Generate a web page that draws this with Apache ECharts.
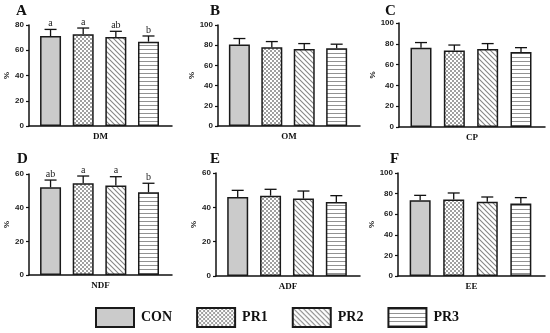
<!DOCTYPE html>
<html><head><meta charset="utf-8">
<script src="https://cdn.jsdelivr.net/npm/echarts@6/dist/echarts.min.js"></script>
<style>html,body{margin:0;padding:0;background:#fff}#c{width:550px;height:333px}</style>
</head><body><div id="c"></div>
<script>
// ---- data ----
const groups = ['CON', 'PR1', 'PR2', 'PR3'];
const panelLetters = ['A', 'B', 'C', 'D', 'E', 'F'];
const panelNames = ['DM', 'OM', 'CP', 'NDF', 'ADF', 'EE'];
const yMax = [80, 100, 100, 60, 60, 100];
const yInterval = 20;
const dmMean = [71.3, 72.6, 70.5, 66.8];
const dmSE = [5.2, 5.0, 4.5, 4.5];
const dmSig = ['a', 'a', 'ab', 'b'];
const omMean = [80.6, 78.0, 76.3, 77.0];
const omSE = [6.0, 5.6, 5.3, 4.0];
const omSig = ['', '', '', ''];
const cpMean = [76.3, 73.5, 75.0, 72.1];
const cpSE = [4.9, 5.3, 5.2, 4.2];
const cpSig = ['', '', '', ''];
const ndfMean = [52.1, 54.5, 53.1, 49.1];
const ndfSE = [4.3, 4.3, 5.3, 5.4];
const ndfSig = ['ab', 'a', 'a', 'b'];
const adfMean = [46.0, 46.8, 45.1, 43.1];
const adfSE = [3.9, 3.7, 4.4, 3.7];
const adfSig = ['', '', '', ''];
const eeMean = [73.5, 74.2, 72.2, 70.3];
const eeSE = [4.8, 6.4, 4.5, 5.8];
const eeSig = ['', '', '', ''];

const means = [dmMean, omMean, cpMean, ndfMean, adfMean, eeMean];
const ses = [dmSE, omSE, cpSE, ndfSE, adfSE, eeSE];
const sigs = [dmSig, omSig, cpSig, ndfSig, adfSig, eeSig];

// ---- layout / style ----
const gridPos = [
  {left: 29, top: 25, width: 143, height: 101},
  {left: 218, top: 25, width: 142, height: 101},
  {left: 399, top: 23, width: 146, height: 104},
  {left: 29, top: 174, width: 143, height: 101},
  {left: 216, top: 173, width: 144, height: 103},
  {left: 398, top: 173, width: 147, height: 103}
];
const titlePos = [
  {left: 16, top: 4}, {left: 210, top: 4}, {left: 385, top: 4},
  {left: 17, top: 152}, {left: 210, top: 152}, {left: 390, top: 152}
];

function mkPattern(w, h, draw) {
  const c = document.createElement('canvas');
  c.width = w; c.height = h;
  const ctx = c.getContext('2d');
  ctx.fillStyle = '#fff';
  ctx.fillRect(0, 0, w, h);
  draw(ctx);
  return {image: c, repeat: 'repeat'};
}
const patterns = [
  '#cbcbcb',
  mkPattern(4, 4, ctx => {
    ctx.fillStyle = '#a0a0a0';
    ctx.fillRect(0, 0, 2, 2);
    ctx.fillRect(2, 2, 2, 2);
  }),
  mkPattern(5, 5, ctx => {
    ctx.strokeStyle = '#858585';
    ctx.lineWidth = 1.1;
    for (const x0 of [-5, 0, 5]) {
      ctx.beginPath(); ctx.moveTo(x0 - 1, -1); ctx.lineTo(x0 + 6, 6); ctx.stroke();
    }
  }),
  mkPattern(4, 4, ctx => {
    ctx.fillStyle = '#929292';
    ctx.fillRect(0, 1, 4, 1);
  })
];

const grids = gridPos.map(g => Object.assign({}, g));
grids.push({left: 0, top: 0, width: 10, height: 10}); // hidden grid for legend series

const xAxes = panelNames.map((n, k) => ({
  type: 'value', gridIndex: k, min: -0.66, max: 3.72,
  axisLine: {show: true, onZero: false, lineStyle: {color: '#111', width: 1.5}},
  axisTick: {show: false}, axisLabel: {show: false}, splitLine: {show: false},
  name: n, nameLocation: 'middle', nameGap: 6,
  nameTextStyle: {fontFamily: 'Liberation Serif', fontWeight: 'bold', fontSize: 9, color: '#111'}
}));
xAxes.push({type: 'value', gridIndex: 6, show: false});

const yAxes = yMax.map((m, k) => ({
  type: 'value', gridIndex: k, min: 0, max: m, interval: yInterval,
  axisLine: {show: true, onZero: false, lineStyle: {color: '#111', width: 1.5}},
  axisTick: {show: true, length: 3, lineStyle: {color: '#111', width: 1.2}},
  axisLabel: {margin: 5, fontFamily: 'Liberation Sans', fontWeight: 'bold', fontSize: 8, color: '#222'},
  splitLine: {show: false},
  name: '%', nameLocation: 'middle', nameGap: 17,
  nameTextStyle: {fontFamily: 'Liberation Sans', fontWeight: 'bold', fontSize: 8, color: '#222'}
}));
yAxes.push({type: 'value', gridIndex: 6, show: false});

const series = [];
means.forEach((mv, k) => {
  series.push({
    type: 'bar', xAxisIndex: k, yAxisIndex: k, barWidth: 21, barGap: '-100%',
    silent: true,
    itemStyle: {borderColor: '#1a1a1a', borderWidth: 1.5},
    data: mv.map((v, i) => ({value: [i, v], itemStyle: {color: patterns[i]}}))
  });
  const sg = sigs[k];
  series.push({
    type: 'custom', xAxisIndex: k, yAxisIndex: k, z: 10, silent: true,
    encode: {x: 0, y: 1},
    data: mv.map((v, i) => [i, v, ses[k][i]]),
    renderItem: (params, api) => {
      const x = api.value(0), m = api.value(1), s = api.value(2);
      const b = api.coord([x, m]), t = api.coord([x, m + s]);
      const st = {stroke: '#111', lineWidth: 1.3};
      const children = [
        {type: 'line', shape: {x1: b[0], y1: b[1], x2: t[0], y2: t[1]}, style: st},
        {type: 'line', shape: {x1: t[0] - 6, y1: t[1], x2: t[0] + 6, y2: t[1]}, style: st}
      ];
      const lab = sg[params.dataIndex];
      if (lab) {
        children.push({type: 'text', x: t[0], y: t[1] - 1,
          style: {text: lab, fill: '#222', font: '10px "Liberation Serif"', align: 'center', verticalAlign: 'bottom'}});
      }
      return {type: 'group', children};
    }
  });
});
groups.forEach((g, i) => {
  series.push({
    type: 'bar', name: g, xAxisIndex: 6, yAxisIndex: 6, data: [],
    itemStyle: {color: patterns[i], borderColor: '#1a1a1a', borderWidth: 1.5}
  });
});

const chart = echarts.init(document.getElementById('c'), null, {renderer: 'canvas'});
chart.setOption({
  animation: false,
  backgroundColor: '#fff',
  title: panelLetters.map((t, k) => ({
    text: t, left: titlePos[k].left, top: titlePos[k].top, padding: 0,
    textStyle: {fontFamily: 'Liberation Serif', fontWeight: 'bold', fontSize: 15, color: '#111'}
  })),
  grid: grids.map(g => Object.assign({outerBoundsMode: 'none'}, g)),
  xAxis: xAxes,
  yAxis: yAxes,
  legend: {
    data: groups, left: 95, top: 307, padding: 0, icon: 'rect',
    itemWidth: 38, itemHeight: 19, itemGap: 24, selectedMode: false,
    textStyle: {fontFamily: 'Liberation Serif', fontWeight: 'bold', fontSize: 14, color: '#111', padding: [0, 0, 0, 2]}
  },
  series
});
</script></body></html>
